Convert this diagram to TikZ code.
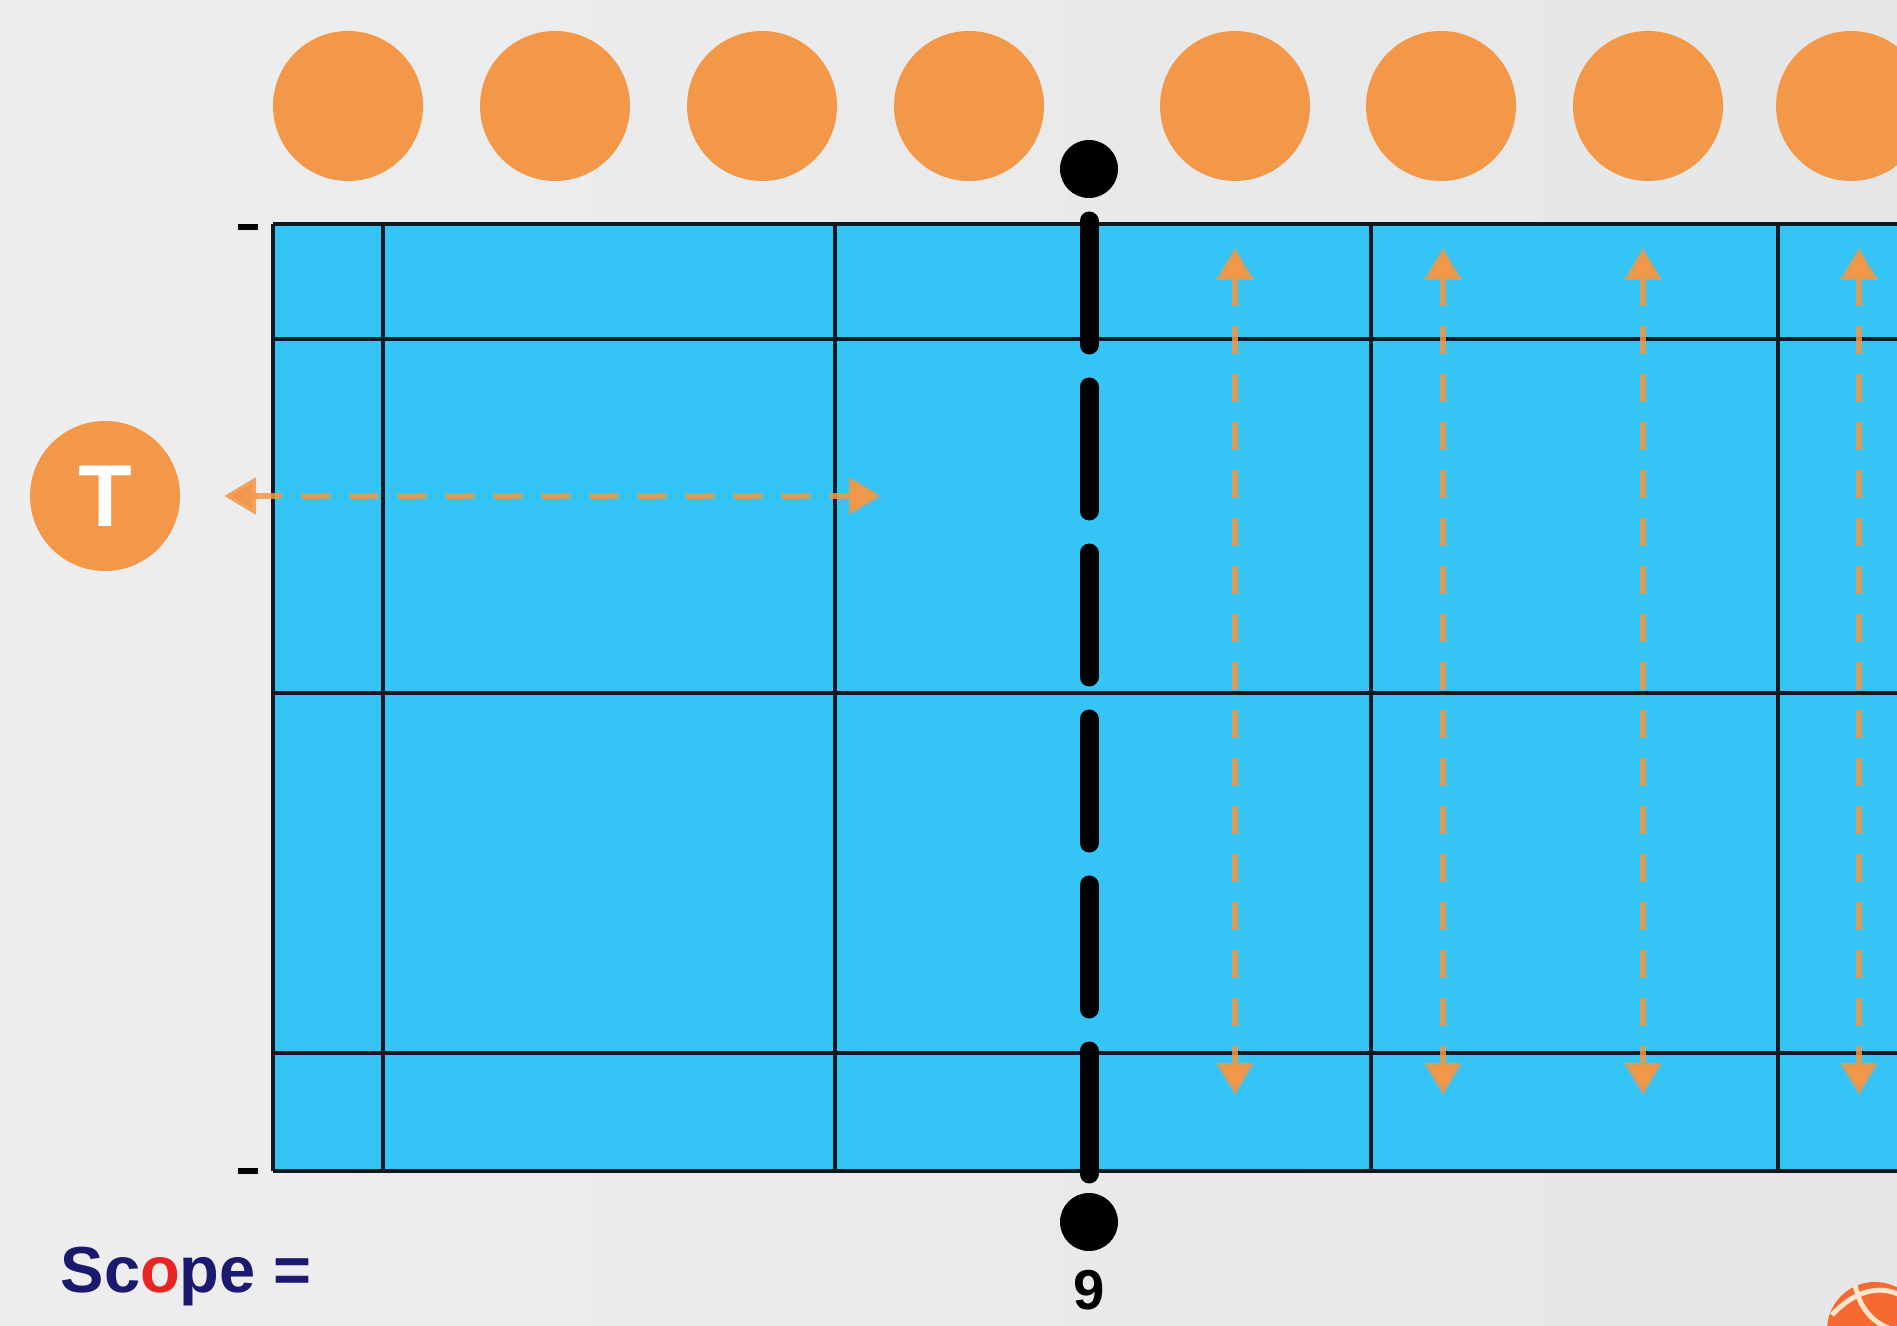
\documentclass[tikz,border=0pt]{standalone}
\usepackage{fontspec}
\setsansfont{Liberation Sans}
\usetikzlibrary{arrows.meta, positioning}
\definecolor{courtblue}{RGB}{52,196,246}
\definecolor{ballorange}{RGB}{242,152,72}
\definecolor{scopenavy}{RGB}{28,26,110}
\definecolor{scopered}{RGB}{232,36,36}
\definecolor{lineblack}{RGB}{12,24,34}
\definecolor{bgleft}{RGB}{238,238,238}
\definecolor{bgright}{RGB}{230,230,230}
\tikzstyle{player} = [circle, fill=ballorange, minimum size=1.5cm, inner sep=0pt]
\tikzstyle{post} = [circle, fill=black, minimum size=0.58cm, inner sep=0pt]
\tikzstyle{courtline} = [line width=1.3pt, draw=lineblack]
\tikzstyle{move} = [{Triangle[width=0.36cm,length=0.32cm]}-{Triangle[width=0.36cm,length=0.32cm]}, draw=ballorange, fill=ballorange, draw opacity=0.85, line width=1.8pt, dash pattern=on 0.28cm off 0.2cm]

\begin{document}
\begin{tikzpicture}[every node/.style={font=\sffamily\bfseries}]
		
		% Canvas
		\useasboundingbox (0,0) rectangle (18.97,13.25);
		\clip (0,0) rectangle (18.97,13.25);
		\shade[left color=bgleft, right color=bgright] (0,0) rectangle (18.97,13.25);
		
		% Court surface
		\fill[courtblue] (2.73,1.54) rectangle (19.5,11.01);
		
		% Court lines
		\foreach \y in {11.01, 9.86, 6.32, 2.72, 1.54}
			\draw[courtline] (2.73,\y) -- (19.5,\y);
		\foreach \x in {2.73, 3.83, 8.35, 13.71, 17.78}
			\draw[courtline] (\x,1.54) -- (\x,11.01);
		
		% Ticks on the left side
		\draw[line width=1.8pt] (2.38,10.98) -- (2.58,10.98);
		\draw[line width=1.8pt] (2.38,1.54) -- (2.58,1.54);
		
		% Net and posts
		\node[post] (posttop) at (10.89,11.56) {};
		\node[post] (postbot) at (10.89,1.03) {};
		\coordinate (nettop) at (10.89,11.04);
		\coordinate (netbot) at (10.89,1.51);
		\draw[line width=5.4pt, line cap=round, dash pattern=on 1.24cm off 0.42cm] (nettop) -- (netbot);
		\node[anchor=base, inner sep=0pt, font=\sffamily\bfseries\fontsize{16}{18}\selectfont] (netnum) at (10.89,0.16) {9};
		
		% Players on top
		\foreach \x [count=\i] in {3.48, 5.55, 7.62, 9.69, 12.35, 14.41, 16.48, 18.51}
			\node[player] (p\i) at (\x,12.19) {};
		
		% Setter
		\node[player, text=white, font=\sffamily\bfseries\fontsize{25}{25}\selectfont] (setter) at (1.05,8.29) {T};
		
		% Movements
		\coordinate (tL) at (2.24,8.29);
		\coordinate (tR) at (8.81,8.29);
		\draw[move] (tL) -- (tR);
		\foreach \x [count=\i] in {12.35, 14.43, 16.43, 18.59} {
			\coordinate (up\i) at (\x,10.77);
			\coordinate (dn\i) at (\x,2.30);
			\draw[move] (up\i) -- (dn\i);
		}
		
		% Caption
		\node[anchor=base west, inner sep=0pt, text=scopenavy, font=\sffamily\bfseries\fontsize{18.5}{20}\selectfont] (scope) at (0.60,0.33) {Sc\textcolor{scopered}{o}pe =};
		
		% Ball in the corner
		\fill[ballorange!70!red] (18.75,-0.05) circle (0.48);
		\draw[white!80!orange, line width=1.4pt] (18.32,0.10) .. controls (18.55,0.35) and (18.80,0.40) .. (19.0,0.30);
		\draw[white!80!orange, line width=1.4pt] (18.55,0.40) .. controls (18.60,0.15) and (18.75,0.0) .. (18.95,-0.05);
		
	\end{tikzpicture}
\end{document}
